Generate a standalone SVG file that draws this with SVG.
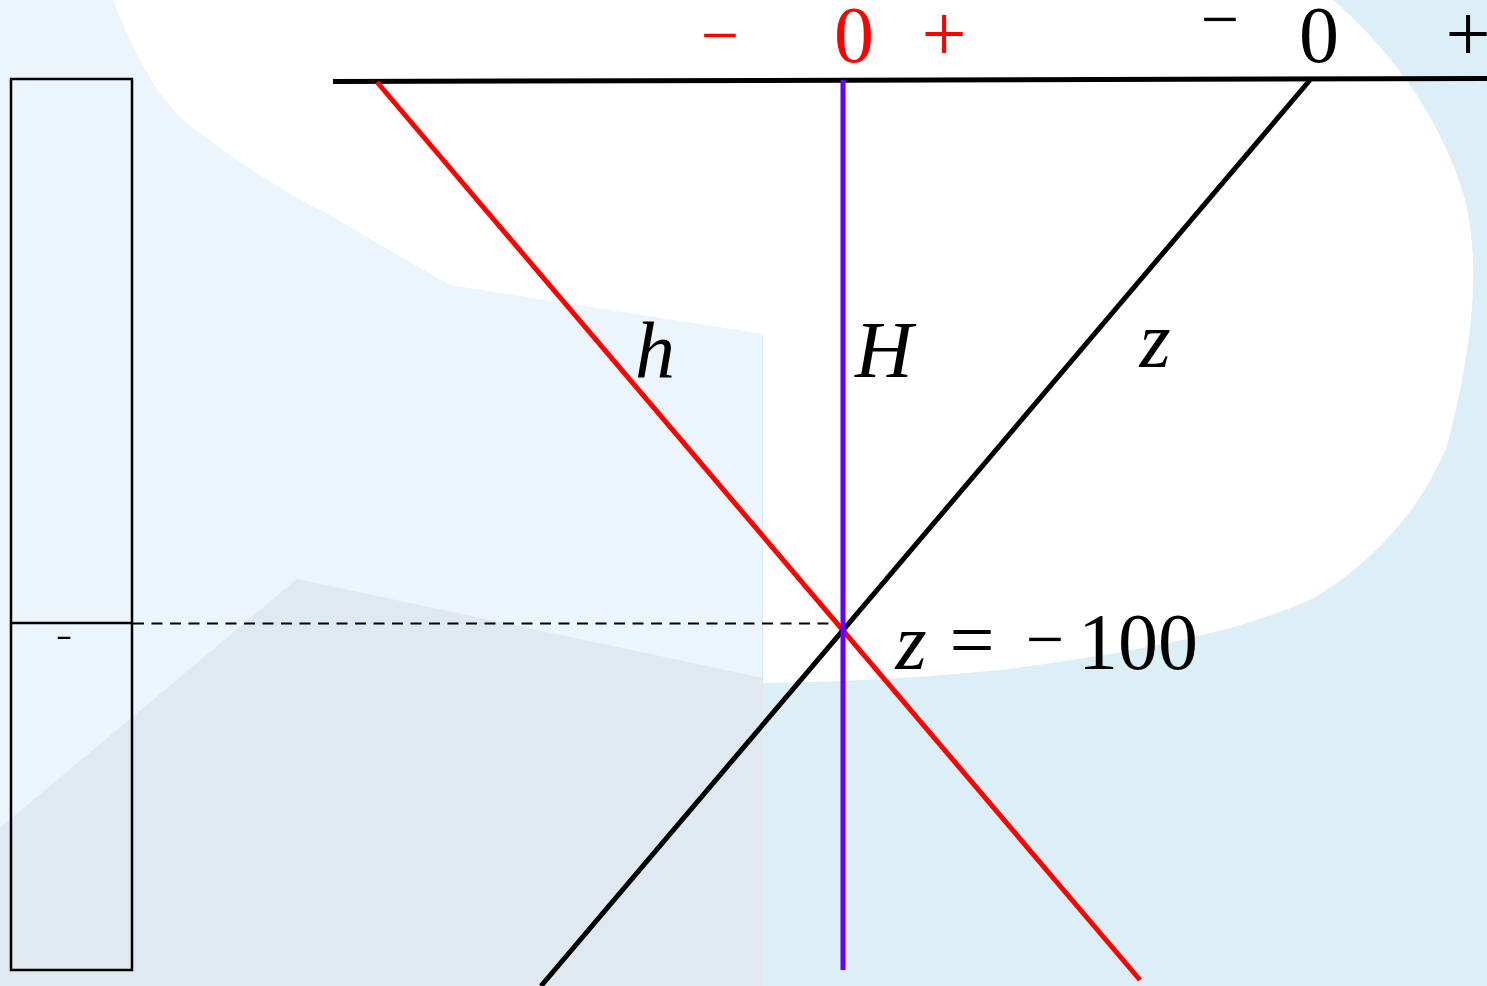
<svg xmlns="http://www.w3.org/2000/svg" width="1487" height="986" viewBox="0 0 1487 986">
<style>
.ln{fill:none;stroke-width:5;stroke-linecap:butt}
text{font-family:'Liberation Serif','Times New Roman',serif}
.t{font-size:80px;text-anchor:middle}
.i{font-style:italic}
.red{fill:#ff0000}
.blk{fill:#000000}
</style>
<g id="background">
<rect x="0" y="0" width="1487" height="986" fill="#ecf4fc"/>
<rect x="762" y="0" width="725" height="986" fill="#dceef6"/>
<polygon points="0,828 297,579 763,678 763,986 0,986" fill="#e0e8f1"/>
<path d="M113,0 L1333,0 C1380,40 1440,110 1465,200 C1480,260 1475,340 1447,446 C1425,500 1380,560 1310,600 C1230,635 1120,655 1000,670 C920,678 840,682 763,683 L763,334 L450,285 C420,268 380,245 333,217 C290,195 240,165 187,123 C165,105 140,70 113,0 Z" fill="#ffffff"/>
</g>
<g id="scale-bar">
<rect x="11" y="79" width="121" height="891" fill="none" stroke="#000" stroke-width="2.5"/>
<line x1="11" y1="623" x2="132" y2="623" stroke="#000" stroke-width="2.5"/>
<text x="0" y="0" class="t blk" style="font-size:30px" transform="translate(64,645) scale(1.6,1)">-</text>
</g>
<g id="connectors">
<line x1="333" y1="81.5" x2="1487" y2="78.5" class="ln" stroke="#000"/>
<line x1="133" y1="623.5" x2="838" y2="623.5" stroke="#000" stroke-width="2" stroke-dasharray="11,7.5"/>
<line x1="377" y1="82" x2="1140" y2="980" class="ln" stroke="#ff0000"/>
<line x1="1310" y1="80" x2="541" y2="986" class="ln" stroke="#000"/>
<line x1="843" y1="80" x2="843" y2="970" class="ln" stroke="#6600ff"/>
</g>
<g id="axis-red">
<text x="720" y="58" class="t red" style="font-size:68px">−</text>
<text x="854" y="62" class="t red">0</text>
<text x="944" y="61" class="t red">+</text>
</g>
<g id="axis-black">
<text x="1220" y="42" class="t blk" style="font-size:68px">−</text>
<text x="1319" y="62" class="t blk">0</text>
<text x="1468" y="61" class="t blk">+</text>
</g>
<g id="label-h"><text x="655" y="377" class="t i blk">h</text></g>
<g id="label-H"><text x="884" y="377" class="t i blk">H</text></g>
<g id="label-z"><text x="1155" y="367" class="t i blk">z</text></g>
<g id="label-z100">
<text x="911" y="669" class="t i blk">z</text>
<text x="972" y="667" class="t blk">=</text>
<text x="1045" y="662" class="t blk" style="font-size:68px">−</text>
<text x="1138" y="669" class="t blk">100</text>
</g>
</svg>
